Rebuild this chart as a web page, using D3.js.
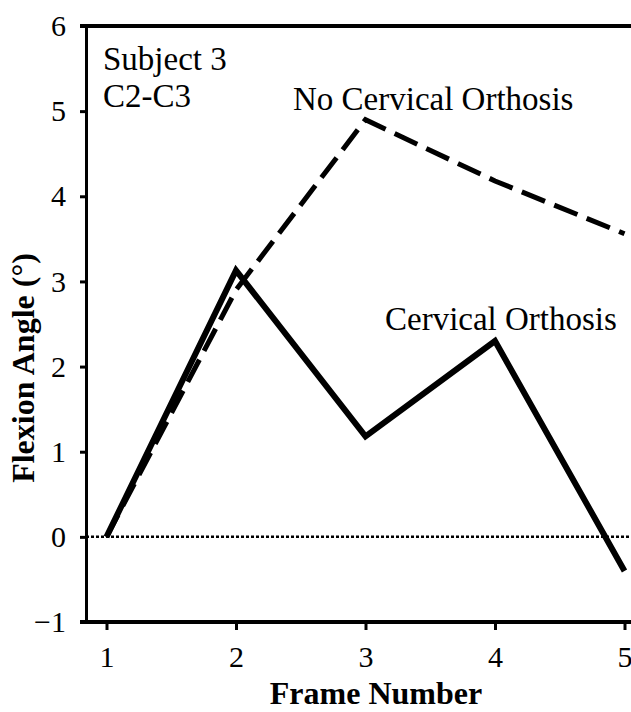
<!DOCTYPE html>
<html>
<head>
<meta charset="utf-8">
<script src="https://cdn.jsdelivr.net/npm/d3@7"></script>
<style>
  html, body { margin: 0; padding: 0; background: #fff; }
  svg { display: block; }
  text { font-family: "Liberation Serif", "Times New Roman", serif; fill: #000; }
</style>
</head>
<body>
<svg id="chart" width="631" height="712"></svg>
<script>
// ---- data ----
const frames = [1, 2, 3, 4, 5];
const orthosis = [0, 3.13, 1.18, 2.30, -0.40];        // Cervical Orthosis (solid)
const noOrthosis = [0, 2.90, 4.90, 4.18, 3.56];       // No Cervical Orthosis (dashed)
const xTicks = [1, 2, 3, 4, 5];
const yTicks = [-1, 0, 1, 2, 3, 4, 5, 6];
const xLabel = "Frame Number";
const yLabel = "Flexion Angle (°)";
const seriesLabels = ["Cervical Orthosis", "No Cervical Orthosis"];
const annotation = ["Subject 3", "C2-C3"];

// ---- layout ----
const svg = d3.select("#chart");
const pLeft = 86, pRight = 660, pTop = 26, pBottom = 622;
const serif = '"Liberation Serif", "Times New Roman", serif';

const x = d3.scaleLinear().domain([1, 5]).range([106.5, 624.5]);
const y = d3.scaleLinear().domain([-1, 6]).range([pBottom, pTop]);

// top border
svg.append("line")
  .attr("x1", pLeft - 6).attr("x2", pRight)
  .attr("y1", pTop).attr("y2", pTop)
  .attr("stroke", "#000").attr("stroke-width", 4);

// y axis
const yAxis = d3.axisLeft(y).tickValues(yTicks)
  .tickFormat(d => d < 0 ? "\u2212" + Math.abs(d) : d)
  .tickSizeInner(6).tickSizeOuter(0).tickPadding(14);
const gy = svg.append("g").attr("transform", `translate(${pLeft},0)`).call(yAxis);
gy.select(".domain").attr("stroke", "#000").attr("stroke-width", 3);
gy.selectAll(".tick line").attr("stroke", "#000").attr("stroke-width", 3);
gy.selectAll(".tick text").attr("font-size", 30)
  .attr("font-family", serif).attr("fill", "#000");

// x axis
const xAxis = d3.axisBottom(x).tickValues(xTicks).tickFormat(d3.format("d"))
  .tickSizeInner(8).tickSizeOuter(0).tickPadding(16);
const gx = svg.append("g").attr("transform", `translate(0,${pBottom})`).call(xAxis);
gx.select(".domain").remove();
gx.append("line").attr("x1", pLeft - 6).attr("x2", pRight).attr("y1", 0).attr("y2", 0)
  .attr("stroke", "#000").attr("stroke-width", 4);
gx.selectAll(".tick line").attr("stroke", "#000").attr("stroke-width", 3);
gx.selectAll(".tick text").attr("font-size", 30)
  .attr("font-family", serif).attr("fill", "#000");

// zero reference line (dotted)
svg.append("line")
  .attr("x1", pLeft).attr("x2", pRight)
  .attr("y1", y(0)).attr("y2", y(0))
  .attr("stroke", "#000").attr("stroke-width", 2.5)
  .attr("stroke-dasharray", "3,2");

// series
const line = d3.line().x((d, i) => x(frames[i])).y(d => y(d));

svg.append("path").datum(noOrthosis)
  .attr("d", line).attr("fill", "none")
  .attr("stroke", "#000").attr("stroke-width", 5)
  .attr("stroke-dasharray", "25,10");

svg.append("path").datum(orthosis)
  .attr("d", line).attr("fill", "none")
  .attr("stroke", "#000").attr("stroke-width", 6)
  .attr("stroke-linejoin", "miter");

// labels
svg.append("text").attr("x", 293).attr("y", 110).attr("font-size", 33).text(seriesLabels[1]);
svg.append("text").attr("x", 385).attr("y", 330).attr("font-size", 33).text(seriesLabels[0]);

svg.append("text").attr("x", 103).attr("y", 70).attr("font-size", 33).text(annotation[0]);
svg.append("text").attr("x", 103).attr("y", 107).attr("font-size", 33).text(annotation[1]);

// axis titles
svg.append("text").attr("x", 376).attr("y", 704).attr("text-anchor", "middle")
  .attr("font-size", 32).attr("font-weight", "bold").text(xLabel);
svg.append("text").attr("transform", "translate(34,368) rotate(-90)")
  .attr("text-anchor", "middle")
  .attr("font-size", 32).attr("font-weight", "bold").text(yLabel);
</script>
</body>
</html>
